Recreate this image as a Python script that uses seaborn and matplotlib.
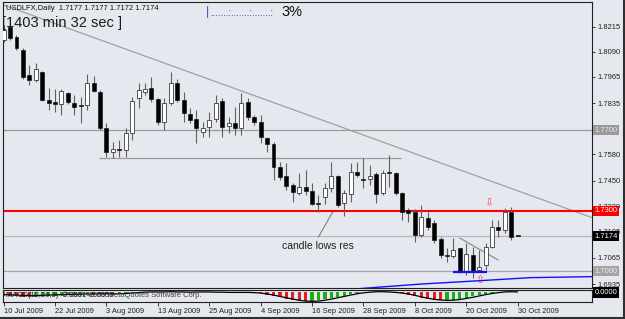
import numpy as np
import pandas as pd
import matplotlib
matplotlib.use("Agg")
import matplotlib.pyplot as plt
import matplotlib.transforms as mtransforms
from matplotlib.lines import Line2D
import seaborn as sns

# ---------------- data ----------------
opens = [1.8149, 1.8214, 1.8164, 1.8099, 1.7975, 1.7950, 1.7990, 1.7851, 1.7841, 1.7831,
         1.7885, 1.7836, 1.7826, 1.7826, 1.7935, 1.7890, 1.7711, 1.7592, 1.7607, 1.7602,
         1.7686, 1.7861, 1.7890, 1.7910, 1.7856, 1.7741, 1.7836, 1.7935, 1.7851, 1.7781,
         1.7756, 1.7691, 1.7716, 1.7756, 1.7846, 1.7721, 1.7736, 1.7711, 1.7841, 1.7766,
         1.7741, 1.7661, 1.7632, 1.7517, 1.7472, 1.7428, 1.7388, 1.7418, 1.7398, 1.7338,
         1.7368, 1.7413, 1.7472, 1.7338, 1.7383, 1.7492, 1.7457, 1.7457, 1.7482, 1.7388,
         1.7492, 1.7487, 1.7388, 1.7303, 1.7293, 1.7179, 1.7263, 1.7238, 1.7159, 1.7079,
         1.7074, 1.7114, 1.7000, 1.7079, 1.7005, 1.7030, 1.7119, 1.7219, 1.7204, 1.7293,
         1.7177]
highs = [1.8224, 1.8224, 1.8174, 1.8109, 1.8025, 1.8035, 1.7995, 1.7910, 1.7905, 1.7905,
         1.7890, 1.7875, 1.7866, 1.7980, 1.7970, 1.7900, 1.7736, 1.7642, 1.7652, 1.7711,
         1.7866, 1.7935, 1.7935, 1.7965, 1.7861, 1.7861, 1.7990, 1.7955, 1.7890, 1.7811,
         1.7801, 1.7741, 1.7791, 1.7875, 1.7861, 1.7766, 1.7816, 1.7885, 1.7861, 1.7776,
         1.7776, 1.7666, 1.7642, 1.7542, 1.7537, 1.7438, 1.7487, 1.7502, 1.7438, 1.7378,
         1.7438, 1.7542, 1.7477, 1.7403, 1.7537, 1.7542, 1.7562, 1.7527, 1.7492, 1.7502,
         1.7577, 1.7492, 1.7393, 1.7313, 1.7308, 1.7328, 1.7293, 1.7253, 1.7169, 1.7114,
         1.7164, 1.7114, 1.7139, 1.7119, 1.7104, 1.7139, 1.7253, 1.7253, 1.7313, 1.7318,
         1.7177]
lows = [1.8139, 1.8149, 1.8099, 1.7955, 1.7925, 1.7940, 1.7846, 1.7801, 1.7791, 1.7776,
        1.7831, 1.7776, 1.7736, 1.7801, 1.7890, 1.7701, 1.7567, 1.7562, 1.7567, 1.7567,
        1.7652, 1.7811, 1.7875, 1.7841, 1.7726, 1.7701, 1.7826, 1.7841, 1.7741, 1.7736,
        1.7637, 1.7666, 1.7666, 1.7741, 1.7666, 1.7686, 1.7676, 1.7676, 1.7751, 1.7726,
        1.7637, 1.7592, 1.7452, 1.7452, 1.7403, 1.7343, 1.7378, 1.7378, 1.7328, 1.7293,
        1.7333, 1.7393, 1.7318, 1.7273, 1.7343, 1.7467, 1.7413, 1.7428, 1.7338, 1.7378,
        1.7418, 1.7378, 1.7253, 1.7243, 1.7144, 1.7169, 1.7204, 1.7139, 1.7064, 1.7045,
        1.7064, 1.6990, 1.6980, 1.6965, 1.6995, 1.7005, 1.7114, 1.7169, 1.7189, 1.7154,
        1.7172]
closes = [1.8199, 1.8159, 1.8109, 1.7965, 1.7950, 1.8005, 1.7851, 1.7836, 1.7831, 1.7895,
          1.7841, 1.7816, 1.7821, 1.7935, 1.7895, 1.7711, 1.7592, 1.7607, 1.7604, 1.7686,
          1.7846, 1.7900, 1.7905, 1.7856, 1.7741, 1.7836, 1.7935, 1.7851, 1.7786, 1.7751,
          1.7711, 1.7711, 1.7751, 1.7836, 1.7716, 1.7736, 1.7711, 1.7836, 1.7766, 1.7741,
          1.7666, 1.7632, 1.7517, 1.7467, 1.7423, 1.7393, 1.7418, 1.7398, 1.7333, 1.7333,
          1.7413, 1.7472, 1.7328, 1.7388, 1.7492, 1.7477, 1.7455, 1.7472, 1.7383, 1.7487,
          1.7487, 1.7388, 1.7293, 1.7288, 1.7179, 1.7268, 1.7219, 1.7154, 1.7079, 1.7077,
          1.7104, 1.7000, 1.7084, 1.6995, 1.7020, 1.7119, 1.7219, 1.7204, 1.7293, 1.7169,
          1.7174]

osc_hist = [-0.0014, -0.0016, -0.0018, -0.0019, -0.0020, -0.0019, -0.0018, -0.0016, -0.0015, -0.0013,
            -0.0012, -0.0012, -0.0010, -0.0009, -0.0010, -0.0008, -0.0009, -0.0010, -0.0008,
            -0.0003, -0.0001, 0.0001, 0.0003, 0.0002, 0.0001, 0.0002, 0.0003, 0.0002, 0.0001,
            0.0000, 0.0002, 0.0003, 0.0002, 0.0001, 0.0000, -0.0001, 0.0000, 0.0001, 0.0000, -0.0002,
            -0.0004, -0.0010, -0.0016, -0.0022, -0.0028, -0.0033, -0.0037, -0.0040, -0.0039, -0.0036,
            -0.0031, -0.0026, -0.0020, -0.0014, -0.0008, -0.0003,
            0.0001, 0.0003, 0.0004, 0.0003, 0.0001, -0.0001,
            -0.0004, -0.0010, -0.0017, -0.0024, -0.0030, -0.0034, -0.0036, -0.0035, -0.0032, -0.0028,
            -0.0023, -0.0018, -0.0012, -0.0007, -0.0002,
            0.0002, 0.0004, 0.0003, 0.0001]
osc_signal = [-0.0010, -0.0011, -0.0012, -0.0013, -0.0014, -0.0014, -0.0013, -0.0012, -0.0011, -0.0010,
              -0.0009, -0.0009, -0.0008, -0.0007, -0.0007, -0.0006, -0.0006, -0.0006, -0.0006,
              -0.0005, -0.0003, -0.0001, 0.0001, 0.0002, 0.0002, 0.0002, 0.0003, 0.0002, 0.0002,
              0.0001, 0.0002, 0.0002, 0.0002, 0.0001, 0.0001, 0.0000, 0.0000, 0.0000, 0.0000, -0.0001,
              -0.0003, -0.0007, -0.0012, -0.0018, -0.0024, -0.0030, -0.0035, -0.0039, -0.0040, -0.0039,
              -0.0035, -0.0030, -0.0024, -0.0018, -0.0012, -0.0006,
              -0.0002, 0.0001, 0.0003, 0.0003, 0.0002, 0.0000,
              -0.0003, -0.0007, -0.0013, -0.0020, -0.0026, -0.0031, -0.0034, -0.0036, -0.0035, -0.0032,
              -0.0027, -0.0022, -0.0016, -0.0010, -0.0005,
              -0.0001, 0.0002, 0.0003, 0.0002]

date_labels = ["10 Jul 2009", "22 Jul 2009", "3 Aug 2009", "13 Aug 2009", "25 Aug 2009",
               "4 Sep 2009", "16 Sep 2009", "28 Sep 2009", "8 Oct 2009", "20 Oct 2009",
               "30 Oct 2009"]
date_bars = [0, 8, 16, 24, 32, 40, 48, 56, 64, 72, 80]

price_ticks = [1.8215, 1.8090, 1.7965, 1.7835, 1.7580, 1.7450, 1.7320, 1.7195, 1.7065, 1.6935]

level_gray_full = 1.7700
level_gray_low = 1.7000
level_red = 1.7300
level_bid = 1.7174
level_seg = 1.7562
seg_bars = [14.8, 61.8]

trend_bars = [0.0, 91.7]
trend_prices = [1.8323, 1.7264]
blue_bars = [55.6, 64.9, 74.2, 82.0, 91.7]
blue_prices = [1.6913, 1.6935, 1.6952, 1.6967, 1.6972]
support_bars = [70.0, 75.2]
support_price = 1.6997
wedge_bars = [71.0, 77.0]
wedge_prices = [1.7164, 1.7054]
note_bars = [49.0, 51.2]
note_prices = [1.7169, 1.7293]

header_text = "USDLFX,Daily  1.7177 1.7177 1.7172 1.7174"

# ---------------- style ----------------
BG = "#e6e8ef"
sns.set_theme(style="white")
plt.rcParams["font.family"] = ["Liberation Sans", "DejaVu Sans"]

W, H = 625, 319
fig = plt.figure(figsize=(W / 100, H / 100), dpi=100, facecolor=BG)

def fx(px):
    return px / W

def fy(py):
    return 1 - py / H

ax = fig.add_axes([fx(3), fy(287.5), fx(589), (287.5 - 2) / H])
axl = fig.add_axes([fx(3), fy(302), fx(589), (302 - 289.5) / H])
for a in (ax, axl):
    a.set_facecolor(BG)
    for s in a.spines.values():
        s.set_color("#202020")
        s.set_linewidth(0.8)

idx = np.arange(len(opens))
o = np.array(opens); c = np.array(closes); hi = np.array(highs); lo = np.array(lows)

# horizontal levels
ax.axhline(level_gray_full, color="#9c9c9c", lw=0.9, zorder=1)
ax.axhline(level_gray_low, color="#a8a8a8", lw=0.9, zorder=1)
ax.axhline(level_bid, color="#b8b8b8", lw=0.9, zorder=1)
ax.hlines(level_seg, seg_bars[0], seg_bars[1], color="#9c9c9c", lw=0.9, zorder=1)

# trend lines (seaborn)
sns.lineplot(x=trend_bars, y=trend_prices, ax=ax, color="#a0a0a0", lw=0.9, zorder=1)
sns.lineplot(x=blue_bars, y=blue_prices, ax=ax, color="#1010ff", lw=1.0, zorder=4)
sns.lineplot(x=wedge_bars, y=wedge_prices, ax=ax, color="#909090", lw=0.9, zorder=1)
sns.lineplot(x=note_bars, y=note_prices, ax=ax, color="#808080", lw=0.8, zorder=1)
ax.hlines(support_price, support_bars[0], support_bars[1], color="#1010ff", lw=1.6, zorder=4)

# red level
ax.axhline(level_red, color="#ff0000", lw=1.5, zorder=2)

# candles
ax.vlines(idx, lo, hi, color="#606060", lw=0.8, zorder=2)
body_lo = np.minimum(o, c)
body_h = np.maximum(np.abs(c - o), 0.00022)
fills = np.where(c >= o, "#ffffff", "#000000")
ax.bar(idx, body_h, bottom=body_lo, width=0.62, color=fills, edgecolor="#1a1a1a",
       linewidth=0.5, zorder=3)

ax.set_xlim(-0.1, 91.57)
ax.set_ylim(1.6918, 1.8338)
ax.set_xlabel(""); ax.set_ylabel("")
ax.tick_params(axis="x", bottom=False, labelbottom=False)
ax.yaxis.tick_right()
ax.set_yticks(price_ticks)
ax.set_yticklabels([f"{v:.4f}" for v in price_ticks])
ax.tick_params(axis="y", length=2.5, width=0.6, pad=1.5, labelsize=5.4,
               colors="#202020", right=True, left=False)

# annotations
ax.text(43.4, 1.7124, "candle lows res", fontsize=7.5, color="#202020", va="center", ha="left")
ax.text(75.5, 1.7338, "\u21e9", fontsize=8, color="#ff5050", va="center", ha="center",
        family="DejaVu Sans")
ax.text(74.1, 1.6957, "\u21e7", fontsize=8, color="#ff5050", va="center", ha="center",
        family="DejaVu Sans")

trans = mtransforms.blended_transform_factory(ax.transAxes, ax.transData)
def box(axis, tr, val, fc, tc):
    axis.text(1.004, val, f"{val:.4f}", transform=tr, fontsize=5.4, color=tc, va="center",
              ha="left", clip_on=False, zorder=10,
              bbox=dict(boxstyle="square,pad=0.22", fc=fc, ec="none"))

box(ax, trans, level_gray_full, "#9a9a9a", "#e8e8e8")
box(ax, trans, level_red, "#ff0000", "#ffffff")
box(ax, trans, level_bid, "#000000", "#ffffff")
box(ax, trans, level_gray_low, "#a4a4a4", "#eeeeee")

# ---------------- lower indicator ----------------
df_osc = pd.DataFrame({"bar": idx, "hist": osc_hist, "signal": osc_signal})
df_osc["dir"] = np.where(df_osc["hist"].diff().fillna(0) >= 0, "up", "down")
sns.barplot(data=df_osc, x="bar", y="hist", hue="dir",
            palette={"up": "#00c800", "down": "#ff0000"}, native_scale=True,
            dodge=False, width=0.5, errorbar=None, legend=False, linewidth=0, ax=axl)
sns.lineplot(data=df_osc, x="bar", y="signal", color="#000000", lw=0.9, ax=axl)
axl.set_xlim(-0.1, 91.57)
axl.set_ylim(-0.0043, 0.0013)
axl.set_xlabel(""); axl.set_ylabel("")
axl.set_yticks([])
axl.set_xticks(date_bars)
axl.set_xticklabels(date_labels)
axl.tick_params(axis="x", length=3, width=0.6, pad=1, labelsize=5.4, colors="#202020",
                direction="out", bottom=True)
for lab in axl.get_xticklabels():
    lab.set_ha("left")
transl = mtransforms.blended_transform_factory(axl.transAxes, axl.transData)
axl.text(1.004, 0.0, "0.0000", transform=transl, fontsize=5.4, color="#ffffff", va="center",
         ha="left", clip_on=False, zorder=10,
         bbox=dict(boxstyle="square,pad=0.22", fc="#000000", ec="none"))
fig.text(fx(6), fy(295.5), "MACD(12,26,9) -0.0007 -0.0003", fontsize=5.4, color="#202020",
         va="center", ha="left")
fig.text(fx(202), fy(295.5), "\u00a9 2001-2009 MetaQuotes Software Corp.", fontsize=5.4,
         color="#404040", va="center", ha="right")

# ---------------- header texts ----------------
fig.text(fx(6), fy(8), header_text, fontsize=5.4, color="#101010", va="center", ha="left")
fig.text(fx(2), fy(23), "[1403 min 32 sec ]", fontsize=10.5, color="#1a1a1a",
         va="center", ha="left")
fig.text(fx(206), fy(12), "|", fontsize=9, color="#3050c0", va="center", ha="left")
fig.text(fx(210), fy(13), ".......:.......:.......:", fontsize=7, color="#203080",
         va="center", ha="left")
fig.text(fx(281), fy(12), "3%", fontsize=10.5, color="#101010", va="center", ha="left")

# outer border (right and bottom)
fig.add_artist(Line2D([0.998, 0.998], [0, 1], transform=fig.transFigure, color="#303030", lw=1.5))
fig.add_artist(Line2D([0, 1], [0.003, 0.003], transform=fig.transFigure, color="#303030", lw=1.5))

fig.savefig("out.png", dpi=100, facecolor=BG)
